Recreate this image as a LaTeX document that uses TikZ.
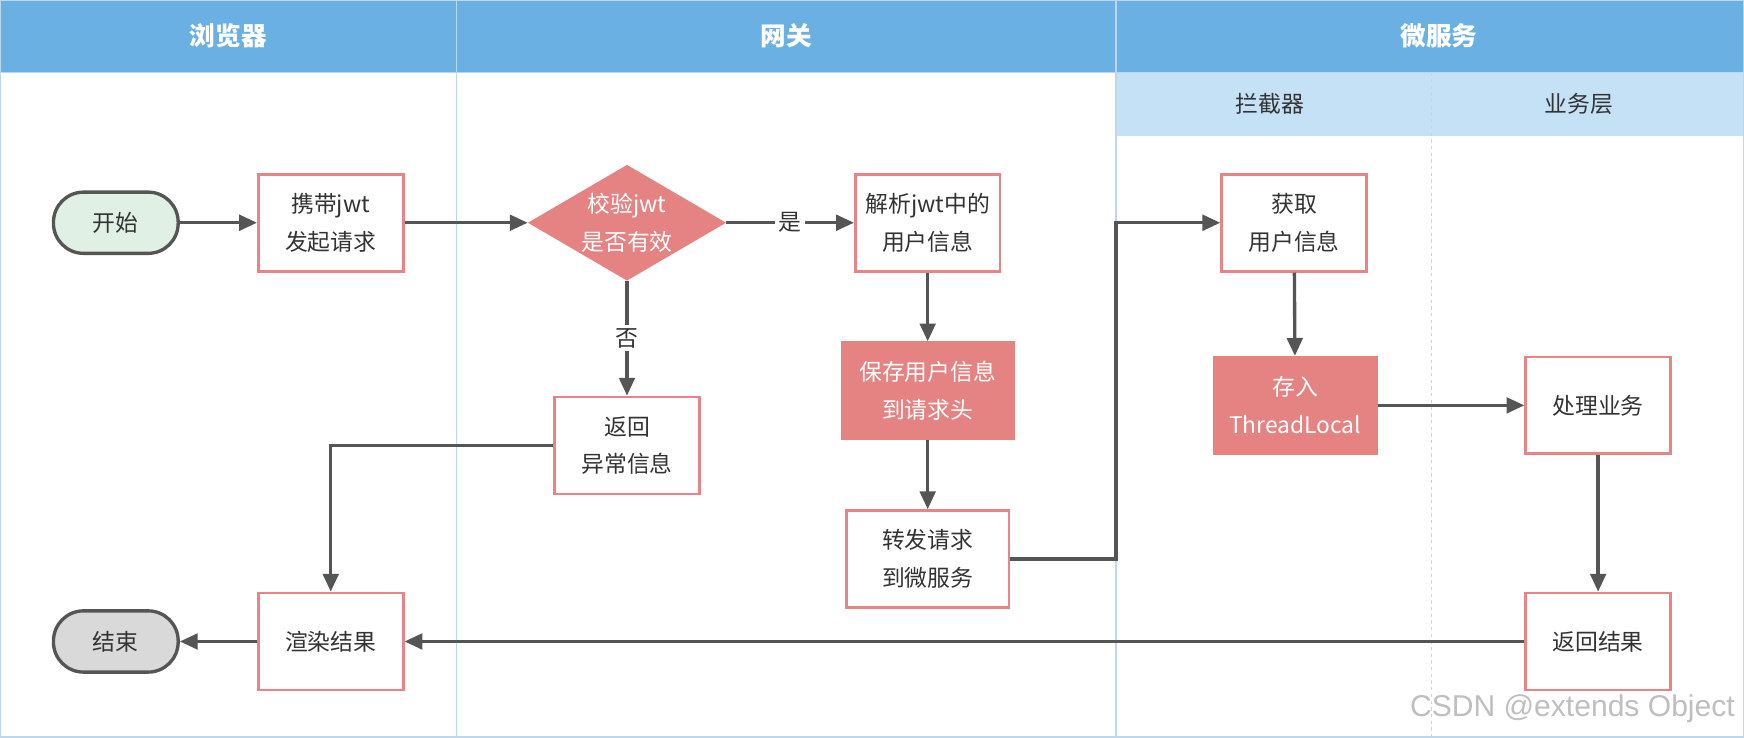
\documentclass[tikz,border=0pt]{standalone}
\usepackage{fontspec}
\setmainfont{Noto Sans CJK SC}
\newfontfamily\wmfont{Liberation Sans}
\usetikzlibrary{arrows.meta,shapes.geometric}
\definecolor{hdr}{RGB}{106,176,227}
\definecolor{subhdr}{RGB}{197,225,245}
\definecolor{laneline}{RGB}{190,215,240}
\definecolor{pinkline}{RGB}{232,132,136}
\definecolor{pinkfill}{RGB}{229,130,130}
\definecolor{arrgray}{RGB}{85,85,85}
\definecolor{startfill}{RGB}{224,240,228}
\definecolor{endfill}{RGB}{217,217,217}
\tikzset{
  txt/.style={font=\fontsize{20.5}{34}\selectfont, text=black!80, align=center},
  hdrtxt/.style={font=\fontsize{23}{26}\selectfont\bfseries, text=white},
  subtxt/.style={font=\fontsize{20.5}{26}\selectfont, text=black!80},
  procbox/.style={txt, draw=pinkline, line width=2.5pt, fill=white, minimum width=130pt, minimum height=87pt, inner sep=0pt},
  hotbox/.style={txt, text=white, fill=pinkfill, draw=pinkfill, line width=1pt, minimum width=155pt, minimum height=88pt, inner sep=0pt},
  term/.style={txt, draw=arrgray, line width=3pt, rounded corners=27pt, minimum width=112pt, minimum height=55pt, inner sep=0pt},
  decide/.style={diamond, fill=pinkfill, minimum width=178pt, minimum height=104pt, inner sep=0pt},
  arr/.style={draw=arrgray, line width=3pt, -{Triangle[length=16pt,width=14pt]}},
  lbl/.style={txt, fill=white, inner sep=3pt},
}
\begin{document}
\begin{tikzpicture}[x=1pt,y=-1pt]
\useasboundingbox (0,0) rectangle (1566,662);
% lanes background
\fill[white] (0,0) rectangle (1566,662);
\fill[hdr] (0,0) rectangle (1566,65);
\fill[subhdr] (1002,65) rectangle (1566,122);
\draw[laneline, line width=1.5pt] (0,0) rectangle (1566,662);
\draw[laneline, line width=1.5pt] (0,65) -- (1566,65);
\draw[laneline, line width=1.5pt] (410,0) -- (410,662);
\draw[laneline, line width=1.5pt] (1002,0) -- (1002,662);
\draw[laneline, line width=1pt, dashed] (1285,65) -- (1285,662);
\coordinate (lane2) at (1002,0);
% headers
\node[hdrtxt] (h1) at (205,32) {浏览器};
\node[hdrtxt] (h2) at (706,32) {网关};
\node[hdrtxt] (h3) at (1292,32) {微服务};
\node[subtxt] (s1) at (1140,93) {拦截器};
\node[subtxt] (s2) at (1418,93) {业务层};
% nodes
\node[term, fill=startfill] (start) at (104,200) {开始};
\node[procbox] (carry) at (297,200) {携带jwt\\发起请求};
\node[decide] (check) at (563,200) {};
\node[txt, text=white] (checkt) at (check) {校验jwt\\是否有效};
\node[procbox] (parse) at (833,200) {解析jwt中的\\用户信息};
\node[hotbox] (save) at (833,351) {保存用户信息\\到请求头};
\node[procbox, minimum width=146pt] (fwd) at (833,502) {转发请求\\到微服务};
\node[procbox] (err) at (563,400) {返回\\异常信息};
\node[procbox] (render) at (297,576) {渲染结果};
\node[term, fill=endfill] (end) at (104,576) {结束};
\node[procbox] (get) at (1162,200) {获取\\用户信息};
\node[hotbox, minimum width=147pt] (store) at (1163,364) {存入\\ThreadLocal};
\node[procbox] (proc) at (1435,364) {处理业务};
\node[procbox] (ret) at (1435,576) {返回结果};
% connectors
\draw[arr] (start) -- (carry);
\draw[arr] (carry) -- (check);
\draw[arr] (check) -- node[lbl] (yes) {是} (parse);
\draw[arr] (check) -- node[lbl] (no) {否} (err);
\draw[arr] (parse) -- (save);
\draw[arr] (save) -- (fwd);
\draw[arr] (fwd.east) -- (fwd.east -| lane2) |- (get.west);
\draw[arr] (err.west) -| (render.north);
\draw[arr] (get) -- (store);
\draw[arr] (store) -- (proc);
\draw[arr] (proc) -- (ret);
\draw[arr] (ret) -- (render);
\draw[arr] (render) -- (end);
% watermark
\node[font=\wmfont\fontsize{27}{30}\selectfont, text=black!25] (wm) at (1412,636) {CSDN @extends Object};
\end{tikzpicture}
\end{document}
